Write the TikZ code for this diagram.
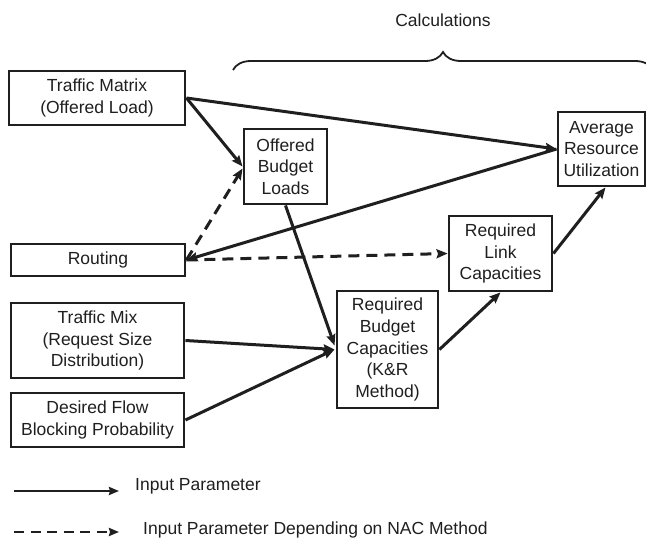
\documentclass[tikz,border=0pt]{standalone}
\usepackage{fontspec}
\setmainfont{Liberation Sans}
\usetikzlibrary{arrows.meta,decorations.pathreplacing}

\colorlet{ink}{black!88}

\begin{document}
\begin{tikzpicture}[x=1pt,y=-1pt,
  txt/.style={font=\fontsize{17.5}{21.7}\selectfont, text=ink},
  box/.style={txt, draw=ink, line width=2.9pt, align=center, inner sep=0pt},
  conn/.style={draw=ink, line width=3pt, -{Stealth[length=11pt,width=9pt,inset=1.5pt]}},
  dconn/.style={conn, dash pattern=on 11pt off 7pt},
  legline/.style={draw=ink, line width=2.6pt, -{Stealth[length=10pt,width=8pt,inset=1pt]}},
  dlegline/.style={legline, dash pattern=on 10pt off 6.5pt}
]
\path[use as bounding box] (0,0) rectangle (646,543);
\clip (0,0) rectangle (646,543);

% input parameter boxes
\node[box, minimum width=176pt, minimum height=54pt] (tm)  at (97,98)    {Traffic Matrix\\(Offered Load)};
\node[box, minimum width=174pt, minimum height=32pt] (rt)  at (98,260)   {Routing};
\node[box, minimum width=173pt, minimum height=75pt] (mix) at (97.5,340.5) {Traffic Mix\\(Request Size\\Distribution)};
\node[box, minimum width=173pt, minimum height=54pt] (dfb) at (97.5,420) {Desired Flow\\Blocking Probability};

% calculation boxes
\node[box, minimum width=83pt,  minimum height=75pt]  (obl) at (285.5,166.5) {Offered\\Budget\\Loads};
\node[box, minimum width=101pt, minimum height=117pt] (rbc) at (387.5,349.5) {Required\\Budget\\Capacities\\(K\&R\\Method)};
\node[box, minimum width=103pt, minimum height=75pt]  (rlc) at (500.5,253.5) {Required\\Link\\Capacities};
\node[box, minimum width=87pt,  minimum height=74pt]  (aru) at (601.5,149)   {Average\\Resource\\Utilization};

% brace over the calculation steps
\coordinate (bl) at (233,70);
\coordinate (br) at (653,70);
\draw[ink, line width=1.8pt, decorate, decoration={brace, amplitude=18pt}] (bl) -- (br);
\node[txt] (calc) at (443,20) {Calculations};

% connectors
\draw[conn] (tm.east) -- (aru.west);
\draw[conn] (tm.east) -- (obl.west);
\draw[dconn] (rt.east) -- ([yshift=-2pt]obl.west);
\draw[conn] (aru.west) -- (rt.east);
\draw[dconn] (rt.east) -- (rlc.west);
\draw[conn] (obl.south) -- ([xshift=-1pt,yshift=4pt]rbc.west);
\draw[conn] (mix.east) -- ([xshift=-1pt]rbc.west);
\draw[conn] (dfb.east) -- ([xshift=-1pt]rbc.west);
\draw[conn] (rbc.east) -- (rlc.south);
\draw[conn] (rlc.east) -- ([xshift=4pt]aru.south);

% legend
\coordinate (ls1) at (14,491);
\coordinate (le1) at (119,491);
\coordinate (ls2) at (14,532);
\coordinate (le2) at (119,532);
\draw[legline] (ls1) -- (le1);
\draw[dlegline] (ls2) -- (le2);
\node[txt, anchor=west, inner sep=0pt] (lt1) at (135,486) {Input Parameter};
\node[txt, anchor=west, inner sep=0pt] (lt2) at (143,530) {Input Parameter Depending on NAC Method};
\end{tikzpicture}
\end{document}
